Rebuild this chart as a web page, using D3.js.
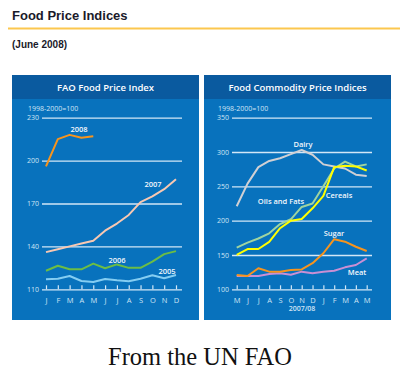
<!DOCTYPE html>
<html>
<head>
<meta charset="utf-8">
<script src="https://cdn.jsdelivr.net/npm/d3@7"></script>
<style>
  body { margin: 0; background: #fff; }
  svg { display: block; }
</style>
</head>
<body>
<div id="chart"></div>
<script>
// Step 1: data
// =================================
var monthsA = ["J", "F", "M", "A", "M", "J", "J", "A", "S", "O", "N", "D"];
var ticksA = [110, 140, 170, 200, 230];
var y2008 = [196, 215, 218, 216, 217];
var y2007 = [136, 138, 140, 142, 144, 151, 156, 162, 171, 175, 180, 187];
var y2006 = [123, 126.5, 124, 124, 128, 124.7, 127.4, 125, 125, 129.3, 134.6, 136.7];
var y2005 = [117, 117.4, 119.3, 115.8, 115.1, 117.2, 116.3, 115.6, 117.4, 119.8, 117.7, 120];

var monthsB = ["M", "J", "J", "A", "S", "O", "N", "D", "J", "F", "M", "A", "M"];
var ticksB = [100, 150, 200, 250, 300, 350];
var dairy = [221, 254, 278, 287, 291, 297, 303, 296, 282, 279, 276, 267, 265];
var oils = [160.6, 168, 174, 181.6, 195, 202, 220, 225, 250, 276, 286, 279, 282];
var cereals = [150, 158.7, 158.7, 169, 189, 200, 202.5, 218, 236, 278, 280, 279, 273];
var sugar = [121, 119.4, 130.6, 125.7, 125.7, 128, 129, 138, 152.5, 173, 169.4, 162, 155.8];
var meat = [119.4, 119.4, 119.4, 122.3, 123.3, 121.3, 125.7, 123.3, 125.7, 127, 132, 135.4, 145];

// Step 2: svg
// =================================
var svg = d3.select("#chart")
  .append("svg")
  .attr("width", 400)
  .attr("height", 376);

var fontSans = "'Open Sans', 'Noto Sans', sans-serif";
var panelBlue = "#0872bd";
var headBlue = "#0a5a9f";
var gridColor = "#d2e7f7";
var tickText = "#cfe4f5";

// page heading
svg.append("text")
  .attr("x", 12)
  .attr("y", 20)
  .attr("font-family", "'Liberation Sans', Arial, sans-serif")
  .attr("font-size", "13px")
  .attr("font-weight", "bold")
  .attr("fill", "#1a1a2a")
  .text("Food Price Indices");

svg.append("rect")
  .attr("x", 8)
  .attr("y", 27.5)
  .attr("width", 392)
  .attr("height", 2)
  .attr("fill", "#fcc74f");

svg.append("text")
  .attr("x", 12)
  .attr("y", 47.5)
  .attr("font-family", "'Liberation Sans', Arial, sans-serif")
  .attr("font-size", "10px")
  .attr("font-weight", "bold")
  .attr("fill", "#1a1a2a")
  .text("(June 2008)");

svg.append("text")
  .attr("x", 200)
  .attr("y", 365)
  .attr("text-anchor", "middle")
  .attr("font-family", "'Liberation Serif', 'Times New Roman', serif")
  .attr("font-size", "24.5px")
  .attr("fill", "#111")
  .text("From the UN FAO");

// Step 3: panel helper
// =================================
function drawPanel(opt) {
  var g = svg.append("g");

  g.append("rect")
    .attr("x", opt.x0)
    .attr("y", 75)
    .attr("width", opt.x1 - opt.x0)
    .attr("height", 245)
    .attr("fill", panelBlue);

  g.append("rect")
    .attr("x", opt.x0)
    .attr("y", 75)
    .attr("width", opt.x1 - opt.x0)
    .attr("height", 24)
    .attr("fill", headBlue);

  g.append("text")
    .attr("x", (opt.x0 + opt.x1) / 2)
    .attr("y", 90.5)
    .attr("text-anchor", "middle")
    .attr("font-family", fontSans)
    .attr("font-size", "9.5px")
    .attr("font-weight", 600)
    .attr("fill", "#fff")
    .text(opt.title);

  g.append("text")
    .attr("x", opt.gx0 - 14)
    .attr("y", 110.5)
    .attr("font-family", fontSans)
    .attr("font-size", "7px")
    .attr("fill", tickText)
    .text("1998-2000=100");

  // horizontal gridlines + labels
  var yAxis = d3.axisLeft(opt.y)
    .tickValues(opt.ticks)
    .tickSize(-(opt.gx1 - opt.gx0))
    .tickPadding(3);

  var ay = g.append("g")
    .attr("transform", `translate(${opt.gx0}, 0)`)
    .call(yAxis);
  ay.select(".domain").remove();
  ay.selectAll("line")
    .attr("stroke", gridColor)
    .attr("stroke-width", 1.3);
  ay.selectAll("text")
    .attr("font-family", fontSans)
    .attr("font-size", "7px")
    .attr("fill", tickText);

  // month ticks
  var xAxis = d3.axisBottom(opt.x)
    .tickSize(-4)
    .tickPadding(8);
  var ax = g.append("g")
    .attr("transform", `translate(0, ${opt.y(opt.ticks[0])})`)
    .call(xAxis);
  ax.select(".domain").remove();
  ax.selectAll("line")
    .attr("stroke", gridColor)
    .attr("stroke-width", 1.2);
  ax.selectAll("text")
    .attr("font-family", fontSans)
    .attr("font-size", "7.5px")
    .attr("fill", tickText)
    .text(function (d) { return opt.months[d]; });

  var line = d3.line()
    .x(function (d, i) { return opt.x(i); })
    .y(function (d) { return opt.y(d); });

  opt.series.forEach(function (s) {
    g.append("path")
      .datum(s.values)
      .attr("d", line)
      .attr("fill", "none")
      .attr("stroke", s.color)
      .attr("stroke-width", 2)
      .attr("stroke-linejoin", "round");
  });

  opt.labels.forEach(function (l) {
    g.append("text")
      .attr("x", l.x)
      .attr("y", l.y)
      .attr("text-anchor", "middle")
      .attr("font-family", fontSans)
      .attr("font-size", "7.5px")
      .attr("font-weight", 600)
      .attr("fill", "#f2f7fc")
      .text(l.text);
  });

  return g;
}

// Step 4: left panel
// =================================
var xA = d3.scalePoint()
  .domain(d3.range(monthsA.length))
  .range([46, 176]);
var yA = d3.scaleLinear()
  .domain([110, 230])
  .range([289.3, 117.7]);

drawPanel({
  x0: 12, x1: 199, gx0: 42, gx1: 182,
  title: "FAO Food Price Index",
  x: xA, y: yA, months: monthsA, ticks: ticksA,
  series: [
    { values: y2005, color: "#84cdf2" },
    { values: y2006, color: "#6cbd45" },
    { values: y2007, color: "#f8c8b2" },
    { values: y2008, color: "#f7941d" }
  ],
  labels: [
    { text: "2008", x: 79, y: 132 },
    { text: "2007", x: 153, y: 187 },
    { text: "2006", x: 117, y: 263 },
    { text: "2005", x: 167, y: 273.5 }
  ]
});

// Step 5: right panel
// =================================
var xB = d3.scalePoint()
  .domain(d3.range(monthsB.length))
  .range([236.7, 366.7]);
var yB = d3.scaleLinear()
  .domain([100, 350])
  .range([289.3, 117.7]);

var right = drawPanel({
  x0: 204, x1: 391, gx0: 232, gx1: 372,
  title: "Food Commodity Price Indices",
  x: xB, y: yB, months: monthsB, ticks: ticksB,
  series: [
    { values: dairy, color: "#d0d0d4" },
    { values: meat, color: "#c98fd4" },
    { values: sugar, color: "#f7941d" },
    { values: oils, color: "#9fd4a0" },
    { values: cereals, color: "#ffff00" }
  ],
  labels: [
    { text: "Dairy", x: 303, y: 147 },
    { text: "Oils and Fats", x: 281, y: 203.5 },
    { text: "Cereals", x: 339, y: 197.5 },
    { text: "Sugar", x: 334, y: 236 },
    { text: "Meat", x: 357, y: 274.5 }
  ]
});

right.append("text")
  .attr("x", 302)
  .attr("y", 311)
  .attr("text-anchor", "middle")
  .attr("font-family", fontSans)
  .attr("font-size", "7px")
  .attr("font-weight", 600)
  .attr("fill", tickText)
  .text("2007/08");
</script>
</body>
</html>
